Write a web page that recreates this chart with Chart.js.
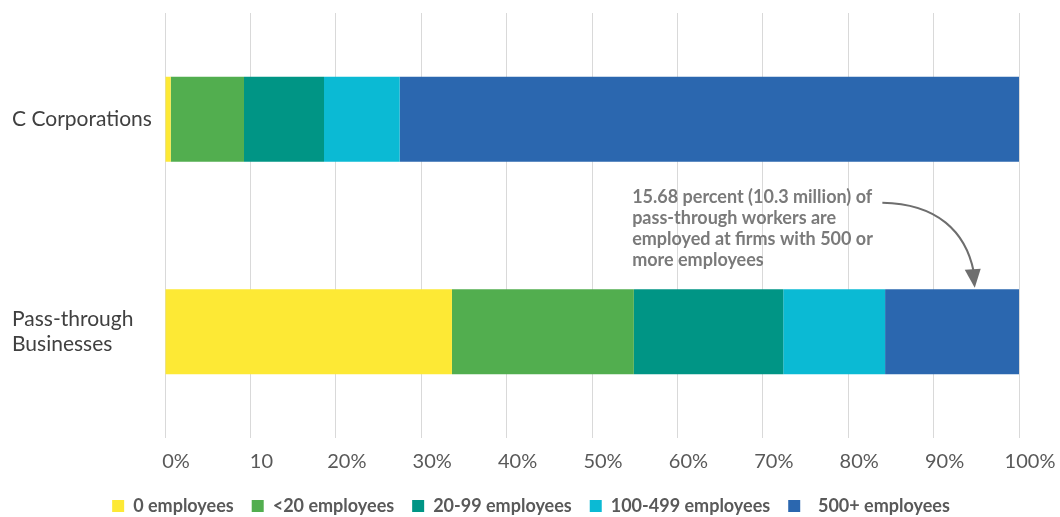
<!DOCTYPE html>
<html><head><meta charset="utf-8">
<script src="https://cdn.jsdelivr.net/npm/chart.js@4/dist/chart.umd.min.js"></script>
<style>html,body{margin:0;padding:0;background:#fff;}#wrap{width:1060px;height:517px;position:relative;}</style>
</head><body><div id="wrap"><canvas id="c" width="1060" height="517"></canvas></div>
<script>
const categories = ['C Corporations', ['Pass-through', 'Businesses']];
const seriesLabels = ['0 employees', '<20 employees', '20-99 employees', '100-499 employees', '500+ employees'];
const zeroEmployees = [0.67, 33.6];
const under20Employees = [8.58, 21.3];
const employees20to99 = [9.37, 17.5];
const employees100to499 = [8.86, 11.92];
const employees500plus = [72.52, 15.68];
const xTickLabels = ['0%', '10', '20%', '30%', '40%', '50%', '60%', '70%', '80%', '90%', '100%'];
const annotationLines = ['15.68 percent (10.3 million) of', 'pass-through workers are', 'employed at firms with 500 or', 'more employees'];
const seriesColors = ['#FDE935', '#52AE4F', '#009585', '#0BBAD4', '#2B67AF'];

const seriesValues = [zeroEmployees, under20Employees, employees20to99, employees100to499, employees500plus];

const annotationPlugin = {
  id: 'annot',
  afterDatasetsDraw(chart) {
    const ctx = chart.ctx;
    const xs = chart.scales.x, ys = chart.scales.y;
    const yPass = ys.getPixelForValue(1);
    ctx.save();
    ctx.font = 'bold 18px Lato';
    ctx.fillStyle = '#7a7a7a';
    ctx.textAlign = 'left';
    ctx.textBaseline = 'middle';
    const tx = xs.getPixelForValue(54.7);
    annotationLines.forEach((t, i) => ctx.fillText(t, tx, yPass - 135 + i * 21));
    // arrow
    const sx = xs.getPixelForValue(84.0), sy = yPass - 129;
    const ex = xs.getPixelForValue(94.7), ey = yPass - 60;
    ctx.strokeStyle = '#6e6e6e';
    ctx.lineWidth = 2;
    ctx.beginPath();
    ctx.moveTo(sx, sy);
    ctx.bezierCurveTo(sx + 55, sy + 1, ex - 8, ey - 40, ex, ey);
    ctx.stroke();
    ctx.fillStyle = '#6e6e6e';
    ctx.beginPath();
    ctx.moveTo(ex + 1, ey + 16);
    ctx.lineTo(ex - 9, ey - 2);
    ctx.lineTo(ex + 7, ey - 3);
    ctx.closePath();
    ctx.fill();
    ctx.restore();
  }
};

const legendShift = {
  id: 'legendShift',
  afterLayout(chart) {
    chart.legend.left += 15.5;
    chart.legend.right += 15.5;
  }
};

new Chart(document.getElementById('c'), {
  type: 'bar',
  data: {
    labels: categories,
    datasets: seriesLabels.map((lab, i) => ({
      label: lab,
      data: seriesValues[i],
      backgroundColor: seriesColors[i],
      borderWidth: 0,
      barPercentage: 0.5,
      categoryPercentage: 0.8
    }))
  },
  options: {
    indexAxis: 'y',
    responsive: false,
    animation: false,
    layout: { padding: { left: 12, right: 41, top: 13, bottom: 0 } },
    scales: {
      x: {
        stacked: true,
        min: 0, max: 100,
        grid: { color: '#d9d9d9', lineWidth: 1, drawTicks: false },
        border: { display: false },
        ticks: {
          stepSize: 10,
          padding: 12,
          labelOffset: 11,
          color: '#595959',
          font: { family: 'Lato', size: 20 },
          maxRotation: 0,
          callback: (v, i) => xTickLabels[i]
        },
        afterFit: s => { s.height = 41; }
      },
      y: {
        stacked: true,
        grid: { display: false },
        border: { display: false },
        ticks: {
          crossAlign: 'far',
          color: '#404040',
          font: { family: 'Lato', size: 21, lineHeight: 1.2 }
        },
        afterFit: s => { s.width = 153; s.paddingTop = 0; s.paddingBottom = 0; }
      }
    },
    plugins: {
      tooltip: { enabled: false },
      legend: {
        position: 'bottom',
        maxHeight: 38,
        labels: {
          boxWidth: 12,
          boxHeight: 12,
          padding: 18,
          color: '#595959',
          font: { family: 'Lato', size: 18, weight: 'bold' },
          generateLabels: chart => {
            const items = Chart.defaults.plugins.legend.labels.generateLabels(chart);
            items.forEach(it => { it.lineWidth = 0; });
            items[items.length - 1].text = '  ' + items[items.length - 1].text;
            return items;
          }
        }
      }
    }
  },
  plugins: [annotationPlugin, legendShift]
});
</script></body></html>
